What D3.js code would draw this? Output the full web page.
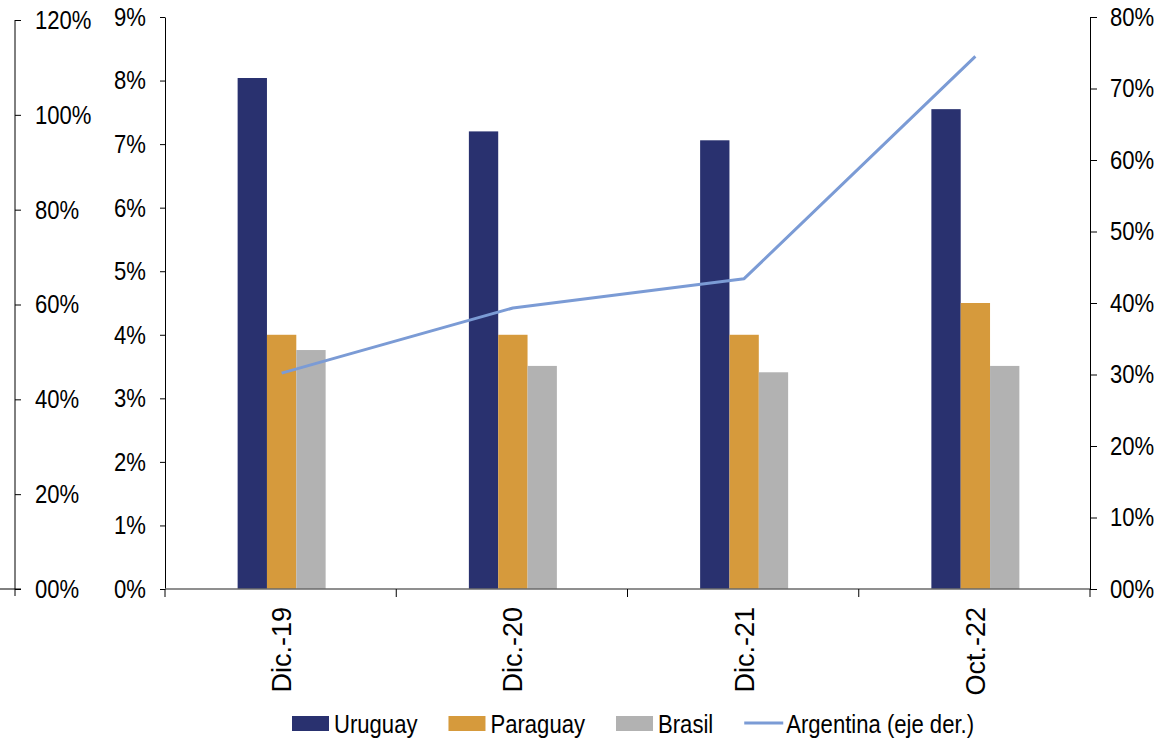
<!DOCTYPE html>
<html>
<head>
<meta charset="utf-8">
<script src="https://cdn.jsdelivr.net/npm/d3@7"></script>
<style>
  body { margin: 0; background: #fff; }
  svg text { font-family: "Liberation Sans", Arial, sans-serif; fill: #000; }
</style>
</head>
<body>
<svg id="chart" width="1168" height="738"></svg>
<script>
// Categories and series (percent values)
const categories = ["Dic.-19", "Dic.-20", "Dic.-21", "Oct.-22"];
const seriesNames = ["Uruguay", "Paraguay", "Brasil"];
const uruguay = [8.04, 7.2, 7.06, 7.55];
const paraguay = [4.0, 4.0, 4.0, 4.5];
const brasil = [3.76, 3.51, 3.41, 3.51];
const argentina = [30.2, 39.3, 43.4, 74.5];
const lineName = "Argentina (eje der.)";

// Tick values for the three vertical axes
const leftTicks = [0, 1, 2, 3, 4, 5, 6, 7, 8, 9];
const rightTicks = [0, 10, 20, 30, 40, 50, 60, 70, 80];
const outerTicks = [0, 20, 40, 60, 80, 100, 120];

const colors = { Uruguay: "#29316f", Paraguay: "#d69a3c", Brasil: "#b2b2b2" };
const lineColor = "#7b9bd5";
const SX = 0.85;      // horizontal condensing of text glyphs
const FONT = 26;

const svg = d3.select("#chart");

const x = d3.scaleBand().domain(categories).range([165, 1090]).padding(0);
const sub = d3.scaleBand().domain(seriesNames).range([-44, 44]).padding(0);
const yL = d3.scaleLinear().domain([0, 9]).range([589, 17]);
const yR = d3.scaleLinear().domain([0, 80]).range([589, 17]);
const yO = d3.scaleLinear().domain([0, 120]).range([589, 20]);

const pct2 = d => d3.format("02d")(d) + "%";

function condense(sel) {
  sel.selectAll(".tick text").each(function () {
    const t = d3.select(this);
    const tx = +t.attr("x") || 0;
    t.attr("x", 0).attr("transform", `translate(${tx},0) scale(${SX},1)`);
  });
}
function styleAxis(g) {
  g.attr("font-size", FONT).attr("font-family", null);
  g.selectAll("line, path").attr("stroke", "#000").attr("stroke-width", 1);
}

// Outer left axis (0-120%)
const gO = svg.append("g").attr("transform", "translate(15,0)")
  .call(d3.axisRight(yO).tickValues(outerTicks).tickSize(6).tickSizeOuter(0).tickPadding(14).tickFormat(pct2));
styleAxis(gO); condense(gO);
gO.select(".domain").remove();
svg.append("line").attr("x1", 15).attr("x2", 15).attr("y1", yO(120)).attr("y2", 596)
  .attr("stroke", "#000");
svg.append("line").attr("x1", 0).attr("x2", 21).attr("y1", yO(0)).attr("y2", yO(0))
  .attr("stroke", "#000");

// Primary left axis (0-9%)
const gL = svg.append("g").attr("transform", "translate(165,0)")
  .call(d3.axisLeft(yL).tickValues(leftTicks).tickSize(5).tickSizeOuter(0).tickPadding(14).tickFormat(d => d + "%"));
styleAxis(gL); condense(gL);

// Right axis (0-80%)
const gR = svg.append("g").attr("transform", "translate(1090,0)")
  .call(d3.axisRight(yR).tickValues(rightTicks).tickSize(7).tickSizeOuter(0).tickPadding(13).tickFormat(pct2));
styleAxis(gR); condense(gR);

// Bars
const rows = categories.map((c, i) => ({
  cat: c,
  vals: [
    { name: "Uruguay", v: uruguay[i] },
    { name: "Paraguay", v: paraguay[i] },
    { name: "Brasil", v: brasil[i] }
  ]
}));
svg.append("g").selectAll("g").data(rows).join("g")
  .attr("transform", d => `translate(${x(d.cat) + x.bandwidth() / 2 + 1},0)`)
  .selectAll("rect").data(d => d.vals).join("rect")
  .attr("x", d => sub(d.name))
  .attr("width", sub.bandwidth())
  .attr("y", d => yL(d.v))
  .attr("height", d => yL(0) - yL(d.v))
  .attr("fill", d => colors[d.name]);

// Category axis: boundary ticks and rotated labels
const boundaries = categories.map(c => x(c)).concat([x.range()[1]]);
svg.append("line").attr("x1", 165).attr("x2", 1090).attr("y1", 589).attr("y2", 589)
  .attr("stroke", "#6a6a6a").attr("stroke-width", 1.6);
svg.append("g").selectAll("line").data(boundaries).join("line")
  .attr("x1", d => d).attr("x2", d => d).attr("y1", 589).attr("y2", 597)
  .attr("stroke", "#000");
svg.append("g").selectAll("text").data(categories).join("text")
  .attr("transform", d => `translate(${x(d) + x.bandwidth() / 2 + 1},607) rotate(-90)`)
  .attr("text-anchor", "end").attr("dy", "0.35em")
  .attr("font-size", 27)
  .text(d => d);

// Argentina line on the right axis
const line = d3.line()
  .x((d, i) => x(categories[i]) + x.bandwidth() / 2 + 1)
  .y(d => yR(d));
svg.append("path").datum(argentina)
  .attr("d", line)
  .attr("fill", "none").attr("stroke", lineColor).attr("stroke-width", 3)
  .attr("stroke-linejoin", "round");

// Legend
const legend = svg.append("g");
let lx = 292;
const items = seriesNames.map(n => ({ name: n, type: "rect" })).concat([{ name: lineName, type: "line" }]);
items.forEach(it => {
  if (it.type === "rect") {
    legend.append("rect").attr("x", lx).attr("y", 716).attr("width", 37).attr("height", 15)
      .attr("fill", colors[it.name]);
  } else {
    legend.append("line").attr("x1", lx).attr("x2", lx + 39).attr("y1", 723).attr("y2", 723)
      .attr("stroke", lineColor).attr("stroke-width", 3);
  }
  const tx = lx + 42;
  const t = legend.append("text")
    .attr("transform", `translate(${tx},733) scale(${SX},1)`)
    .attr("font-size", FONT)
    .text(it.name);
  const w = t.node().getComputedTextLength() * SX;
  lx = tx + w + 31;
});
</script>
</body>
</html>
